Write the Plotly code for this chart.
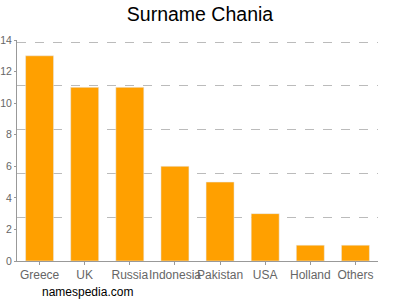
import plotly.graph_objects as go

categories = ["Greece", "UK", "Russia", "Indonesia", "Pakistan", "USA", "Holland", "Others"]
values = [13, 11, 11, 6, 5, 3, 1, 1]
y_ticks = [0, 2, 4, 6, 8, 10, 12, 14]
grid_vals = [2.8, 5.6, 8.4, 11.2, 14]

FONT = "Liberation Sans, Arial, sans-serif"

fig = go.Figure()
fig.add_trace(go.Bar(x=categories, y=values, marker_color="#FFA000", width=0.62, hoverinfo="skip"))
fig.add_trace(go.Scatter(x=categories, y=[None]*len(categories), yaxis="y2", showlegend=False,
                         hoverinfo="skip", cliponaxis=False))

fig.update_layout(
    width=400, height=300,
    margin=dict(l=17, r=22, t=40, b=39),
    paper_bgcolor="white", plot_bgcolor="white",
    showlegend=False,
    title=dict(text="Surname Chania", x=0.5, xanchor="center", y=0.953, yanchor="middle",
               font=dict(family=FONT, size=19.5, color="#000")),
    font=dict(family=FONT, size=11, color="#555"),
    xaxis=dict(showline=True, linecolor="#999", linewidth=1, ticks="outside", ticklen=3, tickcolor="#999",
               tickangle=0, automargin=False,
               tickfont=dict(size=12, color="#666"), showgrid=False, range=[-0.5, 7.5]),
    yaxis=dict(range=[0, 14], tickvals=y_ticks, showgrid=False, showline=True, linecolor="#999",
               ticks="outside", ticklen=2, tickcolor="#999", automargin=False,
               tickfont=dict(size=10.5, color="#666"), zeroline=False),
    yaxis2=dict(range=[0, 14.13], overlaying="y", tickvals=grid_vals, showticklabels=False, showgrid=True,
                gridcolor="#bbb", griddash="dash", gridwidth=1, zeroline=False, showline=False,
                automargin=False),
)
fig.add_annotation(text="namespedia.com", xref="paper", yref="paper", x=(40-17)/361, y=-(292-261)/221,
                   xanchor="left", yanchor="middle", showarrow=False,
                   font=dict(size=12, color="#000", family=FONT))
fig.write_html("out.html")
